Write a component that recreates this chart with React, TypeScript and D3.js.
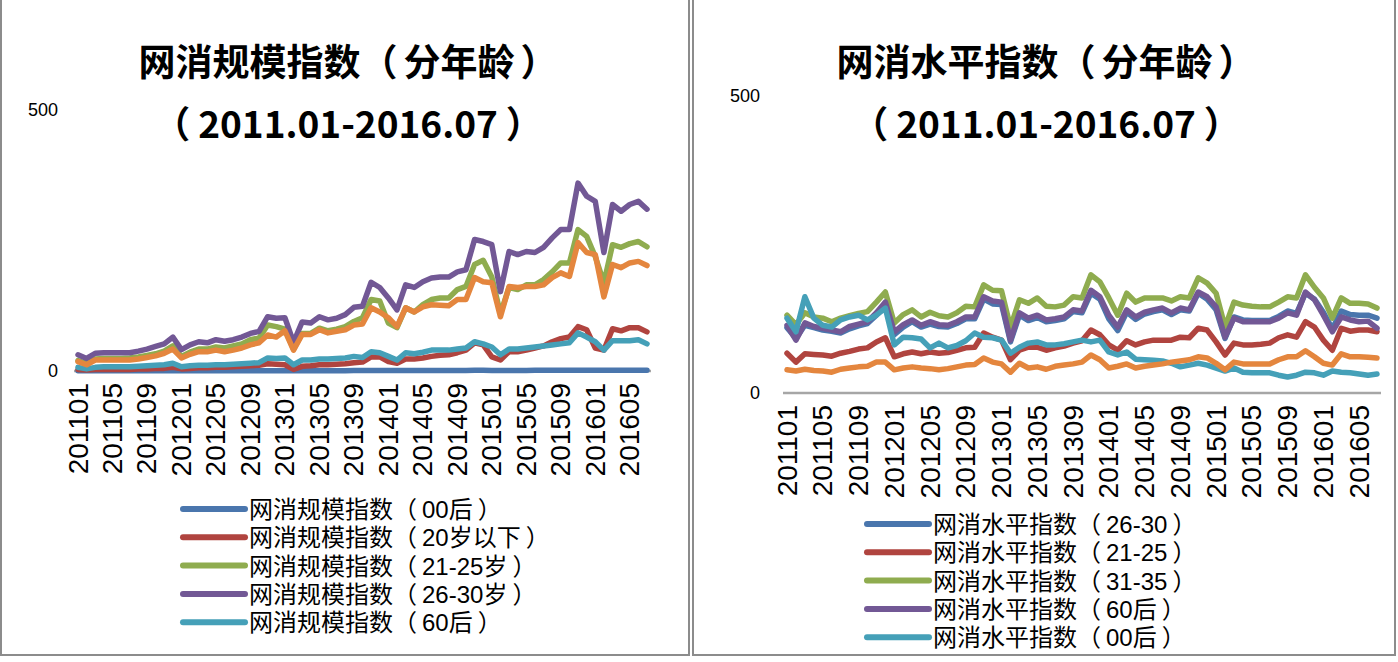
import React from "react";
import * as d3 from "d3";

// ---------- categories ----------
const years = [2011, 2012, 2013, 2014, 2015, 2016];
const months: string[] = [];
years.forEach((y) => {
  for (let m = 1; m <= 12; m++) {
    if (y === 2016 && m > 7) break;
    months.push(`${y}${m < 10 ? "0" + m : m}`);
  }
});
const tickLabels = [
  "201101", "201105", "201109", "201201", "201205", "201209", "201301", "201305",
  "201309", "201401", "201405", "201409", "201501", "201505", "201509", "201601", "201605",
];
const yTicks = [0, 500];

// ---------- left chart: 网消规模指数 ----------
const L_00 = [0.5,0.5,0.5,0.5,0.5,0.5,0.5,0.5,0.5,0.5,0.5,0.6,0.5,0.5,0.5,0.5,0.5,0.5,0.5,0.5,0.6,0.6,0.7,0.7,0.7,0.5,0.6,0.6,0.7,0.7,0.7,0.7,0.8,0.8,0.9,0.9,0.8,0.8,0.9,0.9,0.9,1,1,1,1,1,1.2,1.2,1.1,1,1.1,1.1,1.1,1.2,1.2,1.3,1.3,1.3,1.6,1.5,1.4,1.2,1.5,1.5,1.6,1.6,1.6];
const L_u20 = [3,2,3,3,3,3,3,4,4,5,5,7,4,5,6,6,7,7,8,9,10,11,14,13,12,3,9,10,12,12,13,14,16,17,27,27,18,15,23,23,25,28,30,31,35,40,54,50,27,21,37,37,40,44,48,56,62,65,85,79,44,40,81,77,83,83,75];
const L_2125 = [20,14,23,24,24,24,25,27,30,33,38,48,28,36,42,42,46,44,48,52,60,63,88,85,80,42,72,72,82,77,80,85,95,102,137,134,92,83,121,113,127,137,140,140,156,162,204,212,180,110,160,156,165,165,175,190,207,207,271,258,219,169,242,237,244,248,238];
const L_2630 = [31,24,34,35,35,35,35,38,42,47,52,65,41,50,56,54,60,57,60,65,72,76,104,101,102,55,94,92,104,98,101,108,122,124,170,160,140,117,165,160,171,178,180,180,190,194,252,248,242,152,229,223,229,227,237,255,271,271,360,335,325,227,319,306,319,325,310];
const L_60 = [7,4,7,8,8,8,8,9,10,11,12,15,8,10,11,11,12,12,13,14,15,16,25,24,25,12,21,21,23,23,24,25,28,26,37,35,28,21,35,33,36,40,40,40,42,44,56,52,46,31,42,42,44,46,48,50,52,54,73,65,56,40,58,58,58,60,52];
const L_other = [18,12,21,21,21,21,21,23,26,29,34,42,25,32,37,37,40,37,40,44,50,54,69,65,77,40,70,70,79,73,76,79,88,90,121,113,102,85,121,113,123,127,126,125,137,137,179,171,169,104,162,160,162,162,165,179,188,181,246,227,223,142,204,198,207,210,202];

const leftNames = [
  "网消规模指数（00后）",
  "网消规模指数（20岁以下）",
  "网消规模指数（21-25岁）",
  "网消规模指数（26-30岁）",
  "网消规模指数（60后）",
];

// ---------- right chart: 网消水平指数 ----------
const R_2630 = [110,92,114,110,106,104,101,108,113,117,131,148,98,111,120,111,116,112,111,117,125,125,158,150,149,86,131,122,127,120,122,125,137,135,168,158,125,105,136,124,133,137,140,132,140,138,168,158,140,92,128,123,122,122,122,129,138,134,168,158,136,108,138,132,131,131,126];
const R_2125 = [67,52,66,65,64,62,67,70,74,76,86,93,61,66,69,66,69,67,68,72,76,77,101,94,89,56,72,77,77,72,76,79,84,88,106,98,81,72,88,81,86,89,89,89,94,93,109,106,86,64,84,81,81,82,84,93,98,94,120,111,89,72,109,104,106,106,103];
const R_3135 = [131,115,135,128,126,120,126,130,134,137,153,170,118,132,140,128,136,130,128,135,146,145,182,173,172,111,157,151,160,146,145,148,162,160,199,187,160,131,168,153,160,160,160,155,162,160,194,185,168,111,153,148,146,145,145,153,162,160,199,178,160,126,160,151,151,150,143];
const R_60 = [114,89,118,112,109,106,103,112,116,120,135,153,103,115,123,114,120,115,114,120,128,128,162,155,153,89,135,126,131,123,125,128,140,138,173,162,131,111,140,128,136,140,143,135,143,140,170,162,145,94,126,120,120,120,120,126,135,131,170,157,131,103,128,123,120,121,109];
const R_00 = [126,103,162,126,114,111,123,128,131,123,131,143,81,94,93,91,76,84,76,80,88,101,94,93,89,67,77,84,86,81,81,83,86,89,86,89,69,64,69,57,56,55,54,50,44,47,50,47,42,37,42,35,34,34,34,30,27,30,35,34,30,37,35,34,32,30,32];
const R_other = [39,37,40,38,37,35,40,42,44,45,52,52,39,42,44,42,41,39,41,44,47,48,59,52,49,35,50,42,44,40,45,47,49,52,64,56,42,45,49,42,45,47,49,52,54,56,61,59,50,39,52,49,49,49,49,56,61,61,71,61,50,47,66,61,61,60,59];

const rightNames = [
  "网消水平指数（26-30）",
  "网消水平指数（21-25）",
  "网消水平指数（31-35）",
  "网消水平指数（60后）",
  "网消水平指数（00后）",
];

const COLORS = ["#4a76ad", "#b0443f", "#8fac4f", "#725895", "#45a0b8", "#e4863e"];

const TITLE_FONT = "'Noto Sans CJK SC', 'Noto Sans', sans-serif";
const TEXT_FONT = "'Liberation Sans', 'Noto Sans CJK SC', sans-serif";

// Split a label at its full-width parentheses so the inner part can be spaced like the reference.
function ParenText({ s, gap }: { s: string; gap: number }) {
  const a = s.indexOf("（");
  const b = s.lastIndexOf("）");
  if (a < 0 || b < 0) return <>{s}</>;
  return (
    <>
      <tspan>{s.slice(0, a + 1)}</tspan>
      <tspan dx={gap}>{s.slice(a + 1, b)}</tspan>
      <tspan dx={gap}>{s.slice(b)}</tspan>
    </>
  );
}

type PanelProps = {
  title: string;
  series: number[][];
  names: string[];
  xRange: [number, number];
  yRange: [number, number];
  yLabelX: number;
  axisLine: [number, number];
  legendX: number;
  legendY: number;
  titleX: number;
};

function Panel(p: PanelProps) {
  const x = d3.scalePoint<string>().domain(months).range(p.xRange);
  const y = d3.scaleLinear().domain([0, 500]).range(p.yRange);
  const line = d3
    .line<number>()
    .x((_, i) => x(months[i]) as number)
    .y((d) => y(d));
  const base = y(0);
  return (
    <g>
      <text x={p.titleX} y={60} textAnchor="middle" dominantBaseline="central"
        fontFamily={TITLE_FONT} fontWeight={700} fontSize={37} fill="#000">
        <ParenText s={p.title} gap={6} />
      </text>
      <text x={p.titleX} y={122} textAnchor="middle" dominantBaseline="central"
        fontFamily={TITLE_FONT} fontWeight={700} fontSize={37} fill="#000">
        <ParenText s="（2011.01-2016.07）" gap={8} />
      </text>
      {yTicks.map((t) => (
        <text key={t} x={p.yLabelX} y={y(t)} textAnchor="end" dominantBaseline="central"
          fontFamily={TEXT_FONT} fontSize={18} fill="#000">
          {t}
        </text>
      ))}
      <line x1={p.axisLine[0]} x2={p.axisLine[1]} y1={base} y2={base} stroke="#a6a6a6" strokeWidth={2.5} />
      {p.series.map((s, k) => (
        <path key={k} d={line(s) || ""} fill="none" stroke={COLORS[k]} strokeWidth={5.5}
          strokeLinejoin="round" strokeLinecap="round" />
      ))}
      {tickLabels.map((t) => (
        <text key={t} transform={`translate(${x(t)},${base + 12}) rotate(-90)`} textAnchor="end"
          dominantBaseline="central" fontFamily={TEXT_FONT} fontSize={28} fill="#000">
          {t}
        </text>
      ))}
      {p.names.map((n, k) => (
        <g key={n}>
          <line x1={p.legendX} x2={p.legendX + 62} y1={p.legendY + k * 28.3} y2={p.legendY + k * 28.3}
            stroke={COLORS[k]} strokeWidth={6} strokeLinecap="round" />
          <text x={p.legendX + 66} y={p.legendY + k * 28.3} dominantBaseline="central"
            fontFamily={TEXT_FONT} fontSize={24} fill="#000">
            <ParenText s={n} gap={5} />
          </text>
        </g>
      ))}
    </g>
  );
}

export default function App() {
  return (
    <svg width={1398} height={662} style={{ position: "absolute", left: 0, top: 0, background: "#fff" }}>
      <rect x={0} y={0} width={1398} height={662} fill="#fff" />
      <rect x={1} y={-2} width={688} height={657} fill="none" stroke="#8c8c8c" strokeWidth={2} />
      <rect x={693} y={-2} width={702} height={657} fill="none" stroke="#8c8c8c" strokeWidth={2} />
      <Panel
        title="网消规模指数（分年龄）"
        series={[L_00, L_u20, L_2125, L_2630, L_60, L_other]}
        names={leftNames}
        xRange={[78, 647]}
        yRange={[371, 110]}
        yLabelX={58}
        axisLine={[74, 651]}
        legendX={183}
        legendY={509}
        titleX={348}
      />
      <Panel
        title="网消水平指数（分年龄）"
        series={[R_2630, R_2125, R_3135, R_60, R_00, R_other]}
        names={rightNames}
        xRange={[787, 1377]}
        yRange={[393, 96]}
        yLabelX={760}
        axisLine={[783, 1381]}
        legendX={867}
        legendY={524}
        titleX={1046}
      />
    </svg>
  );
}
